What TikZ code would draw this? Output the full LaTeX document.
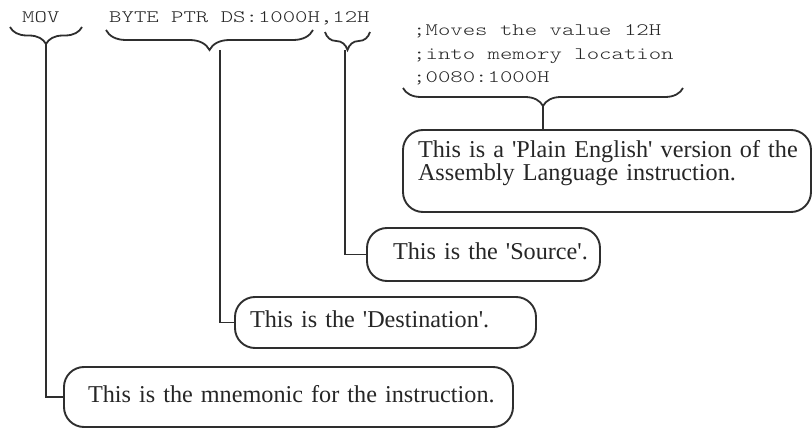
\documentclass[tikz,border=0pt]{standalone}
\usepackage{fontspec}
\setmainfont{Liberation Serif}
\newfontfamily\codefont[FakeStretch=1.35]{Latin Modern Mono Light}
\usetikzlibrary{decorations.pathreplacing}
\definecolor{ink}{HTML}{2E2E2E}
\definecolor{inktext}{HTML}{262626}
\newcommand{\indentby}[1]{\hspace*{#1}}
\begin{document}
\begin{tikzpicture}[x=1pt,y=-1pt,
  code/.style={inner sep=0pt, text=inktext,
    font=\codefont\fontsize{17.5}{23.5}\selectfont},
  note/.style={draw=ink, line width=1.9pt, rounded corners=20pt,
    inner xsep=0pt, inner ysep=0pt, text=inktext, align=left,
    font=\fontsize{24.2}{23}\selectfont},
  oneline/.style={text height=16.5pt, text depth=6pt},
  curly/.style={draw=ink, line width=1.8pt, decorate,
    decoration={brace, mirror, amplitude=#1}},
  link/.style={draw=ink, line width=1.7pt},
]
\useasboundingbox (0,0) rectangle (812,428);

% the instruction and its comment
\node[code, anchor=base west] (mov) at (22,23) {MOV};
\node[code, anchor=base west] (operands) at (109,23) {BYTE PTR DS:1000H,12H};
\node[code, anchor=north west, align=left] (comment) at (413,24.5)
  {;Moves the value 12H\\;into memory location\\;0080:1000H};

% braces under each part
\draw[curly=17pt] (10,27) -- (82,27);
\coordinate (movtip) at (46,44);
\draw[curly=20pt] (106,30) -- (313,30);
\coordinate (dsttip) at (220,50);
\draw[curly=18pt] (325,32) -- (370,32);
\coordinate (srctip) at (345,50);
\draw[curly=18pt] (403,88) -- (683,88);
\coordinate (cmttip) at (543,106);

% explanation boxes
\node[note, text width=408pt, minimum height=82pt] (plain) at (607,171)
  {\indentby{15pt}This is a \textquotesingle Plain English\textquotesingle\ version of the\\
   \indentby{15pt}Assembly Language instruction.\rule[-22pt]{0pt}{22pt}};
\node[note, oneline, text width=233pt, minimum height=53pt] (source) at (483.5,254.5)
  {\indentby{26pt}This is the \textquotesingle Source\textquotesingle.};
\node[note, oneline, text width=301pt, minimum height=51pt] (destination) at (385.5,322.5)
  {\indentby{15pt}This is the \textquotesingle Destination\textquotesingle.};
\node[note, oneline, text width=449pt, minimum height=60pt] (mnemonic) at (288.5,397)
  {\indentby{24pt}This is the mnemonic for the instruction.};

% connectors from the braces to the boxes
\draw[link] (movtip) |- (mnemonic.west);
\draw[link] (dsttip) |- (destination.west);
\draw[link] (srctip) |- (source.west);
\draw[link] (cmttip) -- (cmttip |- plain.north);
\end{tikzpicture}
\end{document}
